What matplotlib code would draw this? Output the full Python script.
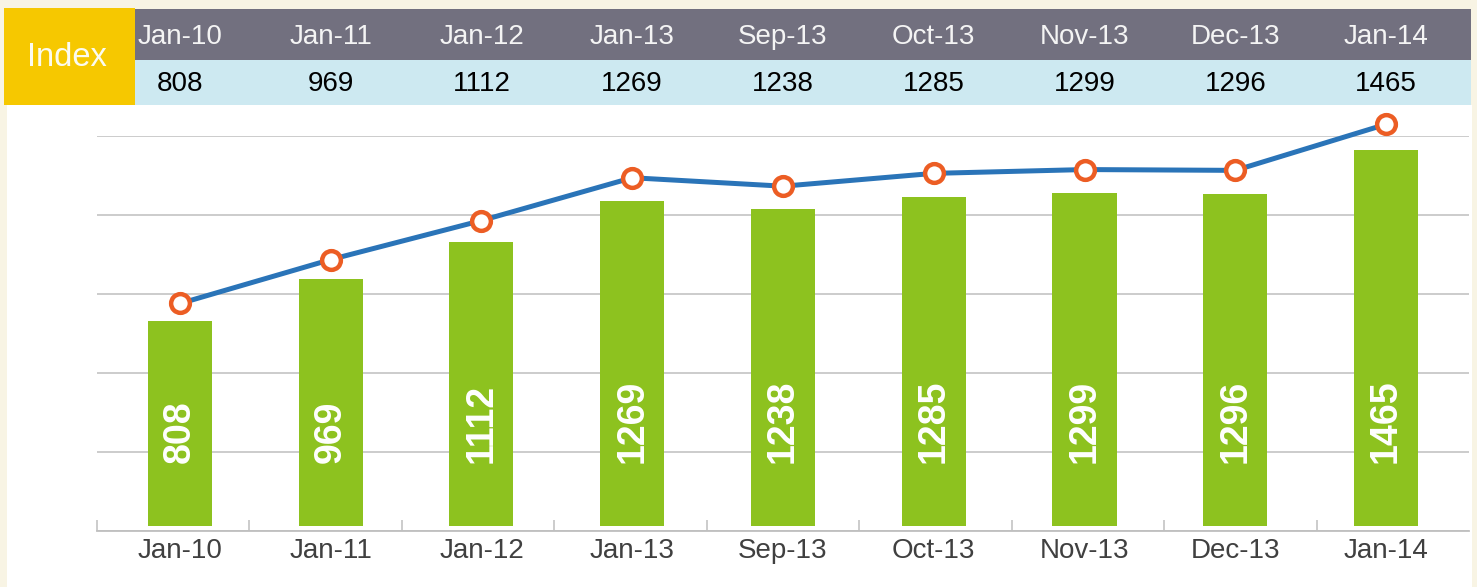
import matplotlib
matplotlib.use('Agg')
import matplotlib.pyplot as plt
import matplotlib.transforms as mtransforms
from matplotlib.patches import Rectangle
import numpy as np

plt.rcParams['font.family'] = ['Liberation Sans', 'DejaVu Sans']

months = ['Jan-10', 'Jan-11', 'Jan-12', 'Jan-13', 'Sep-13', 'Oct-13', 'Nov-13', 'Dec-13', 'Jan-14']
index_vals = [808, 969, 1112, 1269, 1238, 1285, 1299, 1296, 1465]

cream = '#f8f4e4'
green = '#8dc21f'
blue = '#2a74b8'
orange = '#ec5d24'
grid_c = '#bfbfbf'

W, H = 1477, 587
fig = plt.figure(figsize=(W/100, H/100), dpi=100, facecolor=cream)

def fx(px):
    return px / W
def fy(py):
    return 1 - py / H

# white panel + header table boxes
fig.patches.append(Rectangle((fx(7), 0), fx(1472) - fx(7), fy(105), transform=fig.transFigure,
                             facecolor='white', edgecolor='none', zorder=-2))
fig.patches.append(Rectangle((fx(4), fy(105)), fx(135) - fx(4), fy(8) - fy(105), transform=fig.transFigure,
                             facecolor='#f6c800', edgecolor='none', zorder=-1))
fig.patches.append(Rectangle((fx(135), fy(60)), fx(1471) - fx(135), fy(9) - fy(60), transform=fig.transFigure,
                             facecolor='#72707f', edgecolor='none', zorder=-1))
fig.patches.append(Rectangle((fx(135), fy(105)), fx(1471) - fx(135), fy(60) - fy(105), transform=fig.transFigure,
                             facecolor='#cde9f1', edgecolor='none', zorder=-1))
fig.text(fx(67), fy(57), 'Index', color='#fbfbf0', fontsize=23.5, ha='center', va='center')

ax = fig.add_axes([fx(97), fy(531), fx(1469) - fx(97), fy(136) - fy(531)])
ax.set_facecolor('none')
x = np.arange(len(months))

ax.bar(x, np.array(index_vals) - 20, bottom=20, width=0.425, color=green, zorder=3)
for xi, v in zip(x, index_vals):
    ax.text(xi, 262, str(v), rotation=90, ha='center', va='bottom', color='white',
            fontsize=27, fontweight='bold', zorder=4)

ax2 = ax.twinx()

ax.set_ylim(0, 1520)
ax.set_yticks(np.arange(0, 1521, 304))
ax.yaxis.grid(True, color=grid_c, linewidth=1.1)
ax.set_axisbelow(True)
ax.tick_params(axis='y', left=False, right=False, labelleft=False, labelright=False)
ax.set_xlim(-0.55, 8.55)
ax.set_xticks(x)
ax.set_xticklabels(months)
ax.set_xticks(np.linspace(-0.55, 8.55, 10)[:-1], minor=True)
ax.tick_params(axis='x', which='major', length=0, labelsize=20, labelcolor='#404040', pad=5)
ax.tick_params(axis='x', which='minor', direction='in', length=8, width=1.1, color=grid_c)
for s in ['left', 'right', 'top']:
    ax.spines[s].set_visible(False)
ax.spines['bottom'].set_color(grid_c)
ax.spines['bottom'].set_linewidth(1.3)

ax2.set_ylim(-26, 1422)
ax2.plot(x, index_vals, color=blue, linewidth=3.6, marker='o', markersize=13.5,
         markerfacecolor='white', markeredgecolor=orange, markeredgewidth=3.2, clip_on=False, zorder=5)
ax2.axis('off')

# header table texts aligned with categories
trans = mtransforms.blended_transform_factory(ax.transData, fig.transFigure)
for xi, m, v in zip(x, months, index_vals):
    fig.text(xi, fy(37), m, transform=trans, ha='center', va='center', color='#f4f4f4', fontsize=20)
    fig.text(xi, fy(84), str(v), transform=trans, ha='center', va='center', color='black', fontsize=20)

fig.savefig('out.png', dpi=100, facecolor=cream)
